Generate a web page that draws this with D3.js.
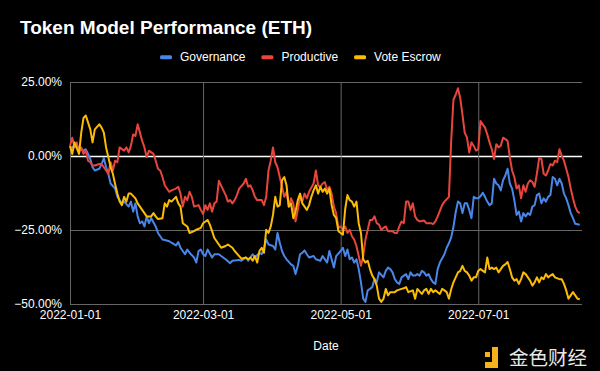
<!DOCTYPE html>
<html>
<head>
<meta charset="utf-8">
<script src="https://cdn.jsdelivr.net/npm/d3@7"></script>
<style>
  html, body { margin: 0; padding: 0; background: #000; }
  svg { display: block; font-family: "Liberation Sans", Arial, sans-serif; }
</style>
</head>
<body>
<script>
// Series: [days since 2022-01-01, % return]
const governance = [[0,2.5],[2,3.5],[4,2.9],[6,1.8],[7,2.3],[9,-1.0],[10,-3.8],[11,-4.9],[13,-4.3],[14,-2.7],[15,-0.7],[16,-3.8],[17,-6.0],[18,-9.3],[20,-11.0],[21,-13.8],[23,-16.0],[24,-15.4],[26,-17.1],[27,-15.4],[28,-18.8],[29,-16.0],[30,-20.4],[31,-22.7],[32,-22.1],[33,-23.8],[34,-20.4],[35,-22.7],[36,-21.0],[38,-23.8],[39,-26.0],[41,-28.2],[42,-28.4],[44,-28.8],[45,-29.3],[47,-30.2],[48,-29.1],[49,-31.0],[51,-33.2],[52,-31.6],[53,-32.7],[55,-34.3],[56,-36.0],[57,-32.1],[58,-31.6],[59,-33.2],[60,-33.8],[61,-31.6],[63,-34.3],[64,-33.2],[66,-33.2],[67,-33.8],[69,-34.9],[71,-36.2],[72,-35.4],[75,-35.1],[76,-35.4],[78,-34.3],[79,-35.4],[81,-33.2],[82,-34.3],[84,-32.7],[85,-33.2],[86,-31.0],[87,-28.2],[88,-29.9],[90,-30.4],[91,-31.6],[92,-26.0],[93,-29.3],[94,-32.1],[95,-33.8],[96,-34.9],[98,-36.6],[99,-37.1],[100,-39.9],[101,-37.1],[102,-33.2],[103,-32.7],[104,-31.9],[105,-33.2],[106,-34.3],[108,-33.8],[109,-34.9],[111,-35.4],[112,-33.8],[114,-36.0],[115,-32.1],[116,-34.9],[117,-37.7],[118,-33.8],[120,-32.1],[121,-31.0],[122,-33.8],[123,-31.6],[124,-34.9],[125,-34.3],[126,-36.0],[127,-34.9],[128,-38.2],[129,-42.7],[130,-48.2],[131,-49.3],[132,-45.4],[133,-44.9],[134,-44.3],[135,-41.6],[136,-42.7],[137,-39.3],[139,-41.0],[140,-38.8],[141,-37.7],[142,-38.2],[143,-39.3],[144,-41.6],[145,-42.7],[146,-43.2],[147,-41.0],[149,-39.9],[150,-41.6],[151,-39.3],[152,-40.4],[153,-40.4],[154,-39.9],[155,-40.4],[156,-38.8],[157,-39.3],[158,-40.4],[159,-39.9],[160,-41.6],[161,-42.7],[162,-43.2],[163,-38.2],[164,-36.0],[166,-33.2],[167,-31.0],[168,-29.5],[169,-27.5],[170,-24.0],[171,-19.0],[172,-15.4],[173,-16.0],[174,-19.3],[175,-16.0],[176,-16.0],[177,-18.2],[178,-21.0],[179,-13.8],[180,-14.3],[181,-14.3],[182,-13.6],[183,-12.4],[184,-13.8],[185,-15.4],[186,-16.6],[187,-16.0],[188,-7.7],[189,-9.3],[190,-9.9],[191,-11.6],[192,-8.2],[193,-6.6],[194,-4.3],[195,-9.3],[196,-11.0],[197,-14.9],[198,-19.9],[199,-18.8],[200,-22.1],[201,-19.3],[202,-20.4],[203,-19.3],[204,-19.9],[205,-17.1],[206,-16.6],[207,-13.2],[208,-12.7],[209,-16.0],[210,-14.3],[211,-15.4],[212,-13.8],[213,-13.2],[214,-7.1],[215,-7.7],[216,-9.9],[217,-7.7],[218,-9.3],[219,-12.7],[220,-14.3],[221,-16.6],[222,-19.3],[223,-21.0],[224,-22.9],[226,-23.2]];

const productive = [[0,3.4],[1,6.2],[2,2.9],[3,4.6],[4,1.2],[5,2.9],[6,0.7],[7,1.8],[8,-1.6],[9,-2.1],[10,-3.2],[11,-3.2],[13,-2.7],[14,-2.7],[15,-3.8],[16,-4.9],[17,-6.0],[18,-2.1],[19,-4.9],[20,-1.6],[21,-2.1],[22,2.9],[24,1.8],[25,2.9],[26,1.2],[27,3.4],[28,7.3],[29,6.8],[30,10.7],[31,7.9],[32,5.1],[33,2.9],[34,-0.4],[35,1.8],[37,0.7],[38,-1.6],[39,-4.3],[40,-4.9],[41,-7.1],[42,-9.9],[44,-12.1],[45,-11.6],[47,-11.0],[48,-10.4],[49,-12.7],[50,-17.1],[51,-13.8],[52,-14.9],[53,-12.1],[54,-13.8],[55,-17.1],[57,-16.6],[58,-18.2],[59,-19.6],[60,-16.6],[61,-18.2],[62,-16.0],[63,-18.8],[64,-16.0],[65,-15.4],[66,-8.4],[68,-11.6],[69,-13.2],[70,-15.4],[71,-14.9],[72,-16.0],[73,-14.9],[74,-13.2],[75,-11.0],[77,-9.3],[78,-7.7],[79,-10.4],[80,-9.9],[81,-11.6],[82,-13.8],[83,-14.9],[85,-14.9],[86,-16.6],[87,-13.8],[88,-4.9],[89,-1.6],[90,2.9],[91,-2.1],[92,-3.8],[93,-7.1],[94,-10.4],[95,-13.8],[96,-12.1],[97,-17.1],[98,-14.3],[99,-16.0],[100,-22.1],[101,-18.2],[102,-13.8],[103,-15.4],[104,-12.7],[105,-14.3],[106,-12.1],[108,-9.3],[109,-4.9],[110,-9.9],[111,-10.4],[112,-9.3],[113,-8.8],[114,-11.6],[115,-10.4],[116,-12.7],[117,-17.1],[118,-19.3],[119,-24.3],[120,-23.8],[121,-24.9],[122,-23.8],[123,-26.0],[124,-24.9],[125,-27.1],[126,-28.2],[127,-30.4],[128,-33.8],[129,-37.1],[130,-33.8],[131,-28.2],[132,-24.9],[133,-21.6],[134,-21.6],[135,-20.4],[136,-22.7],[137,-23.2],[138,-24.9],[139,-24.3],[140,-23.8],[141,-25.4],[143,-25.4],[144,-26.0],[145,-26.0],[146,-23.8],[147,-22.1],[148,-22.7],[149,-15.4],[150,-15.4],[151,-18.2],[152,-16.0],[153,-20.4],[154,-21.6],[155,-22.1],[157,-21.8],[158,-22.7],[160,-22.7],[161,-23.0],[162,-22.1],[163,-20.4],[165,-16.6],[166,-15.4],[168,-13.8],[169,5.0],[170,19.0],[171,20.7],[172,22.9],[173,19.6],[174,14.0],[175,7.9],[176,6.2],[177,1.2],[178,4.6],[179,3.4],[180,1.8],[181,2.3],[182,11.8],[183,10.7],[184,9.6],[185,7.3],[186,4.6],[187,2.3],[188,-1.0],[189,4.0],[190,2.9],[191,3.5],[192,6.2],[193,5.7],[194,5.1],[195,-0.4],[196,-4.9],[197,-7.1],[198,-11.0],[199,-9.9],[200,-14.3],[201,-9.9],[202,-12.1],[203,-9.3],[204,-8.2],[205,-8.8],[206,-10.4],[207,-6.0],[208,-0.7],[209,-1.0],[210,-6.0],[211,-6.6],[212,-4.9],[213,-2.7],[214,-3.2],[215,-1.6],[216,-2.1],[217,2.3],[218,0.1],[219,-1.6],[220,-4.3],[221,-7.1],[222,-11.0],[223,-14.3],[224,-17.1],[225,-18.8],[226,-19.3]];

const voteEscrow = [[0,3.4],[1,0.7],[2,4.6],[4,0.7],[5,8.0],[6,12.9],[7,13.7],[9,9.0],[10,4.6],[11,9.0],[13,10.7],[14,9.6],[15,7.9],[16,2.9],[17,-0.4],[18,-3.8],[19,-6.0],[20,-9.5],[21,-12.7],[22,-15.4],[23,-16.6],[24,-13.8],[25,-15.4],[26,-12.7],[27,-12.7],[29,-14.3],[30,-16.0],[33,-19.3],[34,-20.4],[36,-20.4],[37,-19.3],[38,-20.4],[39,-21.3],[41,-21.0],[42,-16.0],[43,-17.1],[44,-14.9],[45,-15.4],[47,-13.8],[48,-16.0],[49,-17.1],[50,-22.7],[52,-23.8],[53,-26.0],[55,-25.4],[56,-24.9],[58,-24.3],[59,-22.7],[61,-21.6],[62,-23.2],[63,-25.4],[64,-27.7],[66,-29.9],[67,-31.0],[69,-30.4],[70,-29.9],[72,-31.0],[73,-32.1],[75,-33.8],[76,-34.7],[78,-34.3],[79,-34.9],[80,-34.3],[81,-35.4],[82,-33.8],[83,-36.0],[84,-32.1],[85,-31.0],[86,-32.7],[87,-24.9],[88,-26.0],[89,-23.8],[90,-19.9],[91,-13.8],[92,-17.1],[93,-16.6],[94,-8.2],[95,-7.1],[96,-9.9],[97,-17.1],[98,-16.0],[99,-21.0],[100,-18.8],[101,-14.9],[102,-12.7],[103,-16.0],[105,-18.2],[106,-16.6],[107,-13.8],[108,-11.6],[109,-9.9],[110,-12.7],[111,-10.4],[112,-12.1],[113,-11.0],[114,-12.7],[115,-11.0],[116,-16.6],[117,-19.9],[118,-21.0],[119,-25.4],[120,-26.0],[121,-26.6],[122,-18.0],[123,-13.2],[124,-14.9],[125,-15.4],[126,-17.1],[127,-15.4],[128,-22.7],[129,-26.0],[130,-34.9],[131,-36.0],[132,-35.4],[133,-38.2],[134,-40.4],[135,-41.6],[136,-43.8],[137,-48.2],[138,-49.3],[139,-48.2],[140,-44.9],[141,-47.1],[142,-46.0],[144,-46.0],[145,-45.4],[147,-44.9],[148,-44.7],[149,-44.3],[150,-46.0],[152,-45.4],[153,-48.2],[154,-44.9],[156,-46.6],[157,-45.4],[158,-44.9],[159,-46.6],[160,-44.9],[161,-46.0],[162,-45.4],[164,-46.6],[165,-44.9],[166,-45.4],[167,-46.0],[168,-48.2],[169,-45.0],[170,-42.7],[171,-41.0],[172,-39.3],[173,-38.8],[174,-37.1],[175,-38.8],[176,-39.3],[177,-40.4],[178,-42.1],[179,-41.0],[180,-41.0],[181,-38.8],[182,-38.2],[184,-39.3],[185,-34.3],[186,-38.2],[187,-37.7],[188,-38.2],[189,-37.7],[190,-39.3],[191,-38.2],[192,-37.1],[193,-36.6],[194,-35.8],[195,-38.2],[196,-41.0],[197,-42.1],[198,-41.6],[199,-43.2],[200,-41.6],[201,-39.3],[202,-39.9],[203,-41.0],[204,-42.1],[205,-43.8],[206,-42.7],[207,-41.0],[208,-42.7],[209,-41.0],[210,-41.6],[211,-39.9],[212,-41.0],[213,-40.4],[214,-39.9],[215,-41.0],[217,-41.6],[218,-41.6],[219,-43.2],[220,-45.4],[221,-48.2],[223,-46.0],[224,-47.1],[225,-48.2],[226,-48.4]];

const seriesNames = ['Governance', 'Productive', 'Vote Escrow'];
const seriesColors = ['#4a86e8', '#e8453c', '#fbbc04'];
const yTicks = [-50, -25, 0, 25];
const xTicks = ['2022-01-01', '2022-03-01', '2022-05-01', '2022-07-01'];

const W = 600, H = 371;
const margin = { top: 82, right: 18, bottom: 67, left: 70 };
const width = W - margin.left - margin.right;
const height = H - margin.top - margin.bottom;

const start = new Date(2022, 0, 1);
const toDate = d => d3.timeDay.offset(start, d);
const parse = d3.timeParse('%Y-%m-%d');

const svg = d3.select('body').append('svg')
    .attr('width', W)
    .attr('height', H);

svg.append('rect').attr('width', W).attr('height', H).attr('fill', '#000');

const g = svg.append('g')
    .attr('transform', `translate(${margin.left},${margin.top})`);

const x = d3.scaleTime()
    .domain([start, toDate(227)])
    .range([0, width]);

const y = d3.scaleLinear()
    .domain([-50, 25])
    .range([height, 0]);

// Horizontal gridlines + y labels
const yAxis = g.append('g')
    .call(d3.axisLeft(y).tickValues(yTicks).tickSize(-width).tickPadding(8)
        .tickFormat(d => d3.format('.2f')(d) + '%'));
yAxis.select('.domain').remove();
yAxis.selectAll('line')
    .attr('stroke', d => d === 0 ? '#ffffff' : '#666666')
    .attr('stroke-width', d => d === 0 ? 1.5 : 1);
yAxis.selectAll('text')
    .attr('fill', '#fff')
    .style('font-size', '12px');

// Vertical gridlines + x labels
const xAxis = g.append('g')
    .attr('transform', `translate(0,${height})`)
    .call(d3.axisBottom(x).tickValues(xTicks.map(parse)).tickSize(-height).tickPadding(6)
        .tickFormat(d3.timeFormat('%Y-%m-%d')));
xAxis.select('.domain').remove();
xAxis.selectAll('line').attr('stroke', '#666666');
xAxis.selectAll('text')
    .attr('fill', '#fff')
    .style('font-size', '12px');

// Lines
const line = d3.line()
    .x(d => x(toDate(d[0])))
    .y(d => y(d[1]));

[governance, productive, voteEscrow].forEach((s, i) => {
    g.append('path')
        .datum(s)
        .attr('fill', 'none')
        .attr('stroke', seriesColors[i])
        .attr('stroke-width', 2)
        .attr('stroke-linejoin', 'round')
        .attr('d', line);
});

// Title
svg.append('text')
    .attr('x', 20)
    .attr('y', 33.5)
    .attr('fill', '#fff')
    .style('font-size', '19px')
    .style('font-weight', 'bold')
    .text('Token Model Performance (ETH)');

// Legend
const legend = svg.append('g').attr('transform', 'translate(160,0)');
let lx = 0;
seriesNames.forEach((name, i) => {
    legend.append('rect')
        .attr('x', lx).attr('y', 55.3)
        .attr('width', 12).attr('height', 4)
        .attr('rx', 1.5)
        .attr('fill', seriesColors[i]);
    const t = legend.append('text')
        .attr('x', lx + 20).attr('y', 61)
        .attr('fill', '#fff')
        .style('font-size', '12px')
        .text(name);
    lx += 20 + t.node().getComputedTextLength() + 16;
});

// Axis title
svg.append('text')
    .attr('x', margin.left + width / 2)
    .attr('y', 349.5)
    .attr('text-anchor', 'middle')
    .attr('fill', '#fff')
    .style('font-size', '12px')
    .text('Date');

// Watermark
const wm = svg.append('g').attr('fill', '#f5b21b');
wm.append('rect').attr('x', 492).attr('y', 347).attr('width', 6).attr('height', 21);
wm.append('rect').attr('x', 485).attr('y', 362).attr('width', 13).attr('height', 6);
wm.append('rect').attr('x', 485).attr('y', 352).attr('width', 5).attr('height', 5);
svg.append('text')
    .attr('x', 509)
    .attr('y', 365)
    .attr('fill', '#e8e8e8')
    .style('font-family', '"Noto Sans CJK SC", sans-serif')
    .style('font-size', '19.5px')
    .text('金色财经');
</script>
</body>
</html>
